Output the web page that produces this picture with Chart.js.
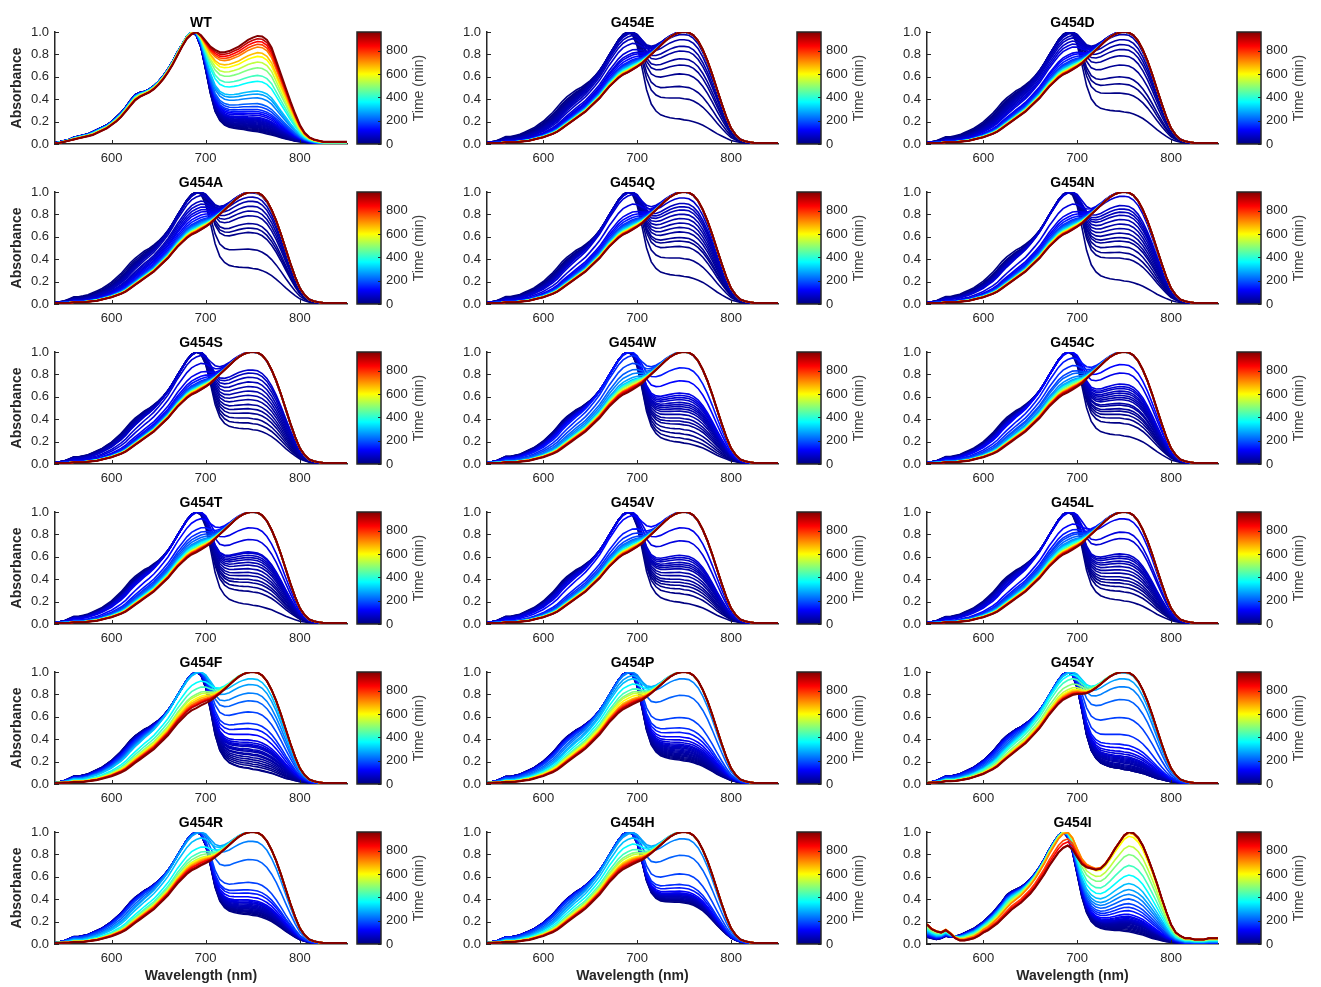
<!DOCTYPE html>
<html>
<head>
<meta charset="utf-8">
<script src="https://cdn.jsdelivr.net/npm/chart.js@4.4.1/dist/chart.umd.min.js"></script>
<style>
  body { margin: 0; background: #fff; width: 1321px; height: 987px; position: relative; overflow: hidden; }
  canvas { position: absolute; }
</style>
</head>
<body>
<script>
// ---- data ----
var wavelengths = [540,545,550,555,560,565,570,575,580,585,
                   590,595,600,605,610,615,620,625,630,635,
                   640,645,650,655,660,665,670,675,680,685,
                   690,695,700,705,710,715,720,725,730,735,
                   740,745,750,755,760,765,770,775,780,785,
                   790,795,800,805,810,815,820,825,830,835,
                   840,845,850];

// time of each spectrum (min), shared by every panel
var timesMin = [0,5,10,15,20,25,30,35,40,45,50,55,60,70,80,90,100,
                120,140,160,180,210,240,270,300,360,420,480,540,600,660,720,780,840,900,960];
var timeMax = 960;
var colorbarTicks = [0,200,400,600,800];
var xTicks = [600,700,800];

// start / end spectra (normalised)
var startMut = [.01,.02,.03,.05,.07,.07,.08,.09,.11,.13,
                .15,.18,.21,.25,.29,.34,.39,.43,.46,.49,
                .51,.54,.57,.61,.66,.72,.79,.86,.93,.98,
                1.0,.97,.86,.66,.44,.30,.23,.19,.17,.155,
                .145,.14,.13,.125,.115,.105,.095,.08,.065,.05,
                .04,.03,.02,.015,.01,.005,0,0,0,0,
                0,0,0];
var endMut = [.01,.01,.01,.01,.015,.015,.015,.02,.025,.03,
              .04,.05,.06,.075,.09,.11,.14,.17,.20,.23,
              .26,.29,.33,.37,.41,.46,.51,.55,.59,.62,
              .64,.665,.69,.72,.76,.80,.84,.88,.92,.955,
              .98,.995,1.0,.995,.97,.92,.84,.74,.62,.49,
              .36,.24,.14,.08,.04,.025,.015,.01,.01,.01,
              .01,.01,.01];
var startWT = [.01,.02,.03,.04,.06,.07,.08,.09,.11,.13,
               .15,.17,.20,.24,.28,.33,.39,.44,.46,.47,
               .49,.52,.56,.61,.67,.74,.82,.89,.96,1.0,
               .97,.86,.66,.45,.29,.21,.17,.15,.14,.135,
               .13,.12,.115,.11,.10,.09,.08,.07,.055,.045,
               .035,.025,.02,.015,.01,.005,0,0,0,0,
               0,0,0];
var endWT = [.005,.01,.02,.03,.04,.05,.06,.07,.08,.10,
             .12,.14,.17,.20,.24,.29,.34,.39,.42,.44,
             .46,.49,.53,.58,.64,.71,.79,.87,.94,.98,
             1.0,.97,.92,.87,.84,.82,.82,.83,.85,.87,
             .90,.93,.95,.965,.96,.93,.86,.74,.62,.50,
             .38,.27,.17,.10,.06,.04,.03,.02,.02,.02,
             .02,.02,.02];
var startI = [.06,.05,.04,.05,.07,.06,.07,.08,.10,.12,
              .14,.17,.20,.24,.28,.33,.38,.44,.47,.49,
              .51,.54,.58,.63,.69,.76,.84,.91,.97,1.0,
              .95,.82,.62,.42,.28,.20,.16,.14,.13,.125,
              .12,.12,.115,.11,.10,.09,.08,.065,.05,.04,
              .03,.02,.015,.01,.005,0,0,0,0,0,
              0,0,0];
var endI = [.17,.13,.11,.10,.12,.09,.05,.03,.03,.04,
            .05,.07,.10,.12,.15,.18,.22,.26,.30,.33,
            .36,.40,.44,.49,.55,.61,.68,.74,.80,.84,
            .86,.83,.76,.70,.67,.66,.65,.66,.70,.76,
            .83,.89,.95,.98,.97,.93,.86,.76,.65,.53,
            .40,.28,.17,.10,.07,.05,.05,.04,.04,.04,
            .05,.05,.05];

// conversion (0 = start spectrum, 1 = end spectrum) at each time
var convWT = [0,.01,.02,.03,.04,.05,.06,.07,.08,.09,.10,.11,.12,.13,.14,.15,.17,.19,.21,.23,.26,.29,.35,.39,.42,.52,.58,.66,.72,.78,.82,.88,.91,.94,.97,1];
var convE = [.09,.27,.36,.45,.51,.55,.60,.63,.67,.70,.72,.735,.755,.785,.83,.855,.87,.89,.91,.92,.93,.937,.94,.95,.955,.96,.97,.975,.98,.985,.99,.99,.995,1,1,1];
var convD = [.16,.31,.38,.43,.51,.57,.61,.64,.67,.70,.72,.735,.75,.77,.79,.81,.855,.87,.89,.91,.92,.93,.937,.94,.95,.955,.96,.97,.975,.98,.985,.99,.99,.995,1,1];
var convA = [.19,.34,.46,.49,.52,.57,.60,.63,.66,.685,.71,.735,.77,.79,.81,.83,.847,.87,.89,.91,.92,.93,.937,.945,.95,.96,.965,.97,.975,.98,.985,.99,.99,.995,1,1];
var convQ = [.12,.27,.36,.40,.425,.464,.494,.523,.552,.58,.607,.627,.647,.68,.73,.79,.847,.87,.89,.91,.92,.93,.937,.945,.95,.96,.965,.97,.975,.98,.985,.99,.99,.995,1,1];
var convN = [.08,.27,.315,.36,.40,.425,.456,.487,.516,.545,.573,.593,.613,.634,.69,.79,.847,.87,.89,.91,.92,.93,.937,.945,.95,.96,.965,.97,.975,.98,.985,.99,.99,.995,1,1];
var convS = [.18,.23,.27,.31,.343,.375,.41,.44,.47,.50,.53,.56,.587,.607,.735,.785,.847,.88,.90,.92,.93,.937,.945,.95,.955,.96,.965,.97,.975,.98,.985,.99,.99,.995,1,1];
var convW = [.06,.10,.14,.18,.22,.245,.27,.30,.325,.343,.36,.375,.39,.41,.425,.44,.456,.537,.62,.735,.785,.83,.86,.89,.91,.92,.93,.937,.95,.96,.965,.968,.975,.98,.99,1];
var convC = [.125,.23,.27,.30,.325,.343,.37,.383,.41,.425,.44,.456,.47,.487,.50,.516,.587,.64,.75,.80,.84,.86,.89,.91,.92,.93,.937,.95,.96,.965,.968,.975,.98,.985,.99,1];
var convT = [.04,.16,.20,.235,.26,.29,.315,.343,.37,.39,.41,.425,.44,.456,.464,.545,.62,.755,.815,.847,.87,.89,.91,.92,.93,.937,.95,.96,.965,.968,.975,.98,.985,.99,.995,1];
var convV = [.06,.14,.18,.21,.235,.26,.29,.315,.343,.36,.375,.39,.41,.425,.44,.537,.62,.735,.825,.86,.89,.91,.92,.93,.937,.95,.96,.965,.968,.975,.98,.985,.99,.995,1,1];
var convL = [.08,.16,.20,.23,.255,.28,.31,.335,.36,.383,.40,.42,.435,.45,.552,.593,.675,.79,.83,.855,.87,.89,.91,.92,.93,.937,.95,.96,.965,.968,.975,.98,.985,.99,.995,1];
var convF = [0,.005,.03,.05,.07,.09,.11,.13,.14,.16,.17,.18,.20,.21,.22,.235,.255,.30,.343,.383,.464,.537,.587,.64,.675,.77,.81,.847,.86,.88,.895,.91,.92,.93,.937,.96];
var convP = [.08,.09,.10,.11,.12,.13,.14,.15,.16,.17,.18,.19,.20,.21,.22,.235,.255,.28,.315,.35,.425,.573,.675,.735,.755,.79,.825,.847,.86,.88,.90,.91,.92,.93,.937,.95];
var convY = [0,0,0,.005,.015,.025,.035,.045,.06,.07,.08,.09,.10,.11,.12,.14,.16,.19,.22,.30,.425,.545,.627,.675,.71,.73,.755,.79,.815,.83,.84,.847,.855,.86,.865,.87];
var convR = [.13,.14,.15,.16,.16,.17,.18,.18,.19,.20,.20,.21,.22,.23,.235,.245,.255,.28,.31,.335,.39,.545,.66,.715,.75,.81,.847,.87,.89,.90,.91,.92,.93,.937,.95,.96];
var convH = [.235,.245,.245,.255,.255,.26,.26,.27,.27,.28,.28,.29,.29,.30,.30,.31,.31,.325,.35,.375,.45,.573,.675,.72,.75,.79,.83,.855,.87,.89,.90,.91,.92,.93,.937,.95];
var convI = [0,.012,.024,.036,.047,.059,.07,.082,.093,.093,.105,.105,.116,.116,.127,.139,.15,.17,.205,.237,.27,.313,.355,.397,.45,.522,.602,.69,.76,.84,.865,.88,.934,.963,.994,1];

var panels = [
  { name: 'WT',    start: startWT,  end: endWT,  conv: convWT },
  { name: 'G454E', start: startMut, end: endMut, conv: convE },
  { name: 'G454D', start: startMut, end: endMut, conv: convD },
  { name: 'G454A', start: startMut, end: endMut, conv: convA },
  { name: 'G454Q', start: startMut, end: endMut, conv: convQ },
  { name: 'G454N', start: startMut, end: endMut, conv: convN },
  { name: 'G454S', start: startMut, end: endMut, conv: convS },
  { name: 'G454W', start: startMut, end: endMut, conv: convW },
  { name: 'G454C', start: startMut, end: endMut, conv: convC },
  { name: 'G454T', start: startMut, end: endMut, conv: convT },
  { name: 'G454V', start: startMut, end: endMut, conv: convV },
  { name: 'G454L', start: startMut, end: endMut, conv: convL },
  { name: 'G454F', start: startMut, end: endMut, conv: convF },
  { name: 'G454P', start: startMut, end: endMut, conv: convP },
  { name: 'G454Y', start: startMut, end: endMut, conv: convY },
  { name: 'G454R', start: startMut, end: endMut, conv: convR },
  { name: 'G454H', start: startMut, end: endMut, conv: convH },
  { name: 'G454I', start: startI,   end: endI,   conv: convI }
];

// ---- drawing ----
var FONT = '"Liberation Sans", Arial, sans-serif';
var INK = '#262626';
var colLeft = [55, 487, 927];
var colWidth = [292, 291, 291];
var cbOffset = [302, 310, 310];
var X_AXIS_H = 26;

function jet(v) {
  v = Math.max(0, Math.min(1, v));
  var r = Math.max(0, Math.min(1, 1.5 - Math.abs(4 * v - 3)));
  var g = Math.max(0, Math.min(1, 1.5 - Math.abs(4 * v - 2)));
  var b = Math.max(0, Math.min(1, 1.5 - Math.abs(4 * v - 1)));
  return 'rgb(' + Math.round(r * 255) + ',' + Math.round(g * 255) + ',' + Math.round(b * 255) + ')';
}

// mix start/end spectra and rescale to a peak of 1
function spectrum(p, f) {
  var mix = p.start.map(function (a, k) { return (1 - f) * a + f * p.end[k]; });
  var top = Math.max.apply(null, mix);
  return mix.map(function (a, k) { return { x: wavelengths[k], y: a / top }; });
}

var decoPlugin = {
  id: 'deco',
  afterDraw: function (chart, args, opts) {
    var ctx = chart.ctx, ca = chart.chartArea;
    var xs = chart.scales.x, ys = chart.scales.y;
    ctx.save();

    // inward tick marks
    ctx.strokeStyle = INK;
    ctx.lineWidth = 1;
    ctx.beginPath();
    ys.ticks.forEach(function (t) {
      var y = Math.round(ys.getPixelForValue(t.value)) + 0.5;
      ctx.moveTo(ca.left, y); ctx.lineTo(ca.left + 4, y);
    });
    xTicks.forEach(function (v) {
      var x = Math.round(xs.getPixelForValue(v)) + 0.5;
      ctx.moveTo(x, ca.bottom); ctx.lineTo(x, ca.bottom - 4);
    });
    ctx.stroke();

    // panel title
    ctx.fillStyle = '#000';
    ctx.font = 'bold 14px ' + FONT;
    ctx.textAlign = 'center';
    ctx.textBaseline = 'alphabetic';
    ctx.fillText(opts.title, (ca.left + ca.right) / 2, ca.top - 5);

    // colour bar
    var cx = ca.left + opts.cbOffset, cw = 24, top = ca.top, bot = ca.bottom, h = bot - top;
    var grad = ctx.createLinearGradient(0, bot, 0, top);
    [0, 0.125, 0.375, 0.625, 0.875, 1].forEach(function (s) { grad.addColorStop(s, jet(s)); });
    ctx.fillStyle = grad;
    ctx.fillRect(cx, top, cw, h);
    ctx.strokeStyle = INK;
    ctx.lineWidth = 1.5;
    ctx.strokeRect(cx, top, cw, h);
    ctx.fillStyle = INK;
    ctx.font = '13px ' + FONT;
    ctx.textAlign = 'left';
    ctx.textBaseline = 'middle';
    ctx.lineWidth = 1;
    ctx.beginPath();
    colorbarTicks.forEach(function (v) {
      var y = bot - v / timeMax * h;
      ctx.fillText(String(v), cx + cw + 5, y);
      ctx.moveTo(cx + cw - 3, Math.round(y) + 0.5); ctx.lineTo(cx + cw, Math.round(y) + 0.5);
    });
    ctx.stroke();

    ctx.save();
    ctx.translate(cx + cw + 38, (top + bot) / 2);
    ctx.rotate(-Math.PI / 2);
    ctx.font = '14px ' + FONT;
    ctx.fillStyle = '#404040';
    ctx.textAlign = 'center';
    ctx.fillText('Time (min)', 0, 0);
    ctx.restore();

    if (opts.yLabel) {
      ctx.save();
      ctx.translate(ca.left - 38, (top + bot) / 2);
      ctx.rotate(-Math.PI / 2);
      ctx.font = 'bold 14px ' + FONT;
      ctx.fillStyle = INK;
      ctx.textAlign = 'center';
      ctx.fillText('Absorbance', 0, 0);
      ctx.restore();
    }
    if (opts.xLabel) {
      ctx.font = 'bold 14px ' + FONT;
      ctx.fillStyle = INK;
      ctx.textAlign = 'center';
      ctx.fillText('Wavelength (nm)', (ca.left + ca.right) / 2, ca.bottom + 32);
    }
    ctx.restore();
  }
};

panels.forEach(function (p, i) {
  var row = Math.floor(i / 3), col = i % 3;
  var plotTop = 32 + 160 * row, plotH = 112;
  var lastRow = row === 5;
  var cw = 440, ch = lastRow ? 187 : 176;

  var canvas = document.createElement('canvas');
  canvas.width = cw; canvas.height = ch;
  canvas.style.left = (colLeft[col] - 55) + 'px';
  canvas.style.top = (plotTop - 32) + 'px';
  document.body.appendChild(canvas);

  // latest spectrum first so it is drawn on top
  var datasets = [];
  for (var k = timesMin.length - 1; k >= 0; k--) {
    datasets.push({
      data: spectrum(p, p.conv[k]),
      borderColor: jet(timesMin[k] / timeMax),
      borderWidth: k === timesMin.length - 1 ? 2 : 1.6,
      pointRadius: 0,
      fill: false,
      tension: 0
    });
  }

  new Chart(canvas, {
    type: 'line',
    data: { datasets: datasets },
    options: {
      responsive: false,
      animation: false,
      events: [],
      layout: { padding: { left: 10, top: 32, right: cw - 55 - colWidth[col], bottom: ch - 32 - plotH - X_AXIS_H } },
      plugins: {
        legend: { display: false },
        tooltip: { enabled: false },
        deco: { title: p.name, cbOffset: cbOffset[col], yLabel: col === 0, xLabel: lastRow }
      },
      scales: {
        x: {
          type: 'linear', min: 540, max: 850,
          grid: { display: false, drawTicks: false },
          border: { color: INK, width: 1.5 },
          afterBuildTicks: function (s) { s.ticks = xTicks.map(function (v) { return { value: v }; }); },
          afterFit: function (s) { s.height = X_AXIS_H; s.paddingLeft = 0; s.paddingRight = 0; },
          ticks: { padding: 7, color: INK, font: { family: FONT, size: 13 } }
        },
        y: {
          min: 0, max: 1,
          grid: { display: false, drawTicks: false },
          border: { color: INK, width: 1.5 },
          afterFit: function (s) { s.width = 45; s.paddingTop = 0; s.paddingBottom = 0; },
          ticks: {
            stepSize: 0.2, padding: 6, color: INK, font: { family: FONT, size: 13 },
            callback: function (v) { return Number(v).toFixed(1); }
          }
        }
      }
    },
    plugins: [decoPlugin]
  });
});
</script>
</body>
</html>
